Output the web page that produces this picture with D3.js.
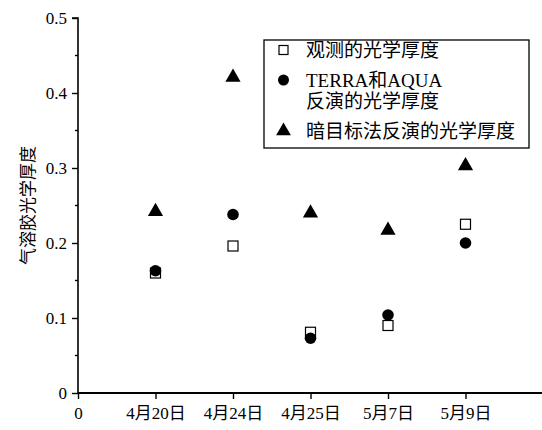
<!DOCTYPE html>
<html><head><meta charset="utf-8">
<script src="https://cdn.jsdelivr.net/npm/d3@7"></script>
<style>
body{margin:0;background:#fff;}
text{font-family:"Liberation Serif","Noto Sans CJK SC",serif;fill:#000 !important;}
</style></head>
<body><svg id="c" width="542" height="430"></svg>
<script>
const categories = ["4月20日","4月24日","4月25日","5月7日","5月9日"];
const observed = [0.160, 0.196, 0.081, 0.090, 0.225];
const terraAqua = [0.163, 0.238, 0.073, 0.104, 0.200];
const darkTarget = [0.242, 0.421, 0.240, 0.217, 0.303];
const yTicks = [0, 0.1, 0.2, 0.3, 0.4, 0.5];
const yMinor = [0.05, 0.15, 0.25, 0.35, 0.45];
const legendLabels = [["观测的光学厚度"], ["TERRA和AQUA","反演的光学厚度"], ["暗目标法反演的光学厚度"]];

const svg = d3.select("#c");
const x = d3.scaleLinear().domain([0, 6]).range([78, 543]);
const y = d3.scaleLinear().domain([0, 0.5]).range([393, 18]);

// Y axis
const yAxis = d3.axisLeft(y).tickValues(yTicks).tickSize(6).tickPadding(5)
  .tickFormat(d => d === 0 ? "0" : d3.format(".1f")(d));
const gy = svg.append("g").attr("transform", `translate(${x(0)},0)`).call(yAxis);
gy.select(".domain").attr("stroke-width", 1.6).attr("d", `M-6,${y(0.5)}H0V${y(0)}`);
gy.selectAll(".tick line").attr("stroke-width", 1.4);
gy.selectAll("text").style("font-size", "17px").attr("dy", "0.33em");
gy.selectAll(".minor").data(yMinor).enter().append("line")
  .attr("x1", -3).attr("x2", 0).attr("y1", d => y(d)).attr("y2", d => y(d))
  .attr("stroke", "#000").attr("stroke-width", 1.4);

// X axis
const xAxis = d3.axisBottom(x).tickValues([0,1,2,3,4,5]).tickSize(6).tickPadding(8)
  .tickFormat(d => d === 0 ? "0" : categories[d-1]);
const gx = svg.append("g").attr("transform", `translate(0,${y(0)})`).call(xAxis);
gx.select(".domain").attr("stroke-width", 2.2).attr("d", `M${x(0)},0H542`);
gx.selectAll(".tick line").attr("stroke-width", 1.4);
gx.selectAll("text").style("font-size", "17px");

// Y label
svg.append("text").attr("transform", `translate(34,${(y(0)+y(0.5))/2}) rotate(-90)`)
  .attr("text-anchor", "middle").style("font-size", "17px")
  .text("气溶胶光学厚度");

const idx = d3.range(categories.length);
const plot = svg.append("g");
// Triangles
plot.selectAll(".tri").data(idx).enter().append("path")
  .attr("transform", i => `translate(${x(i+1)},${y(darkTarget[i])})`)
  .attr("d", d3.symbol(d3.symbolTriangle, 100)).attr("fill", "#000");
// Squares
plot.selectAll(".sq").data(idx).enter().append("rect")
  .attr("x", i => x(i+1) - 5).attr("y", i => y(observed[i]) - 5)
  .attr("width", 10).attr("height", 10).attr("fill", "#fff").attr("stroke", "#000").attr("stroke-width", 1.2);
// Circles
plot.selectAll(".ci").data(idx).enter().append("circle")
  .attr("cx", i => x(i+1)).attr("cy", i => y(terraAqua[i])).attr("r", 5.8).attr("fill", "#000");

// Legend
const lg = svg.append("g");
lg.append("rect").attr("x", 264).attr("y", 40).attr("width", 265).attr("height", 108)
  .attr("fill", "#fff").attr("stroke", "#000").attr("stroke-width", 1.3);
const rows = [50, 80, 131];
lg.append("rect").attr("x", 279).attr("y", rows[0]-4.5).attr("width", 9).attr("height", 9)
  .attr("fill", "#fff").attr("stroke", "#000").attr("stroke-width", 1.2);
lg.append("circle").attr("cx", 283.5).attr("cy", rows[1]).attr("r", 5.5).attr("fill", "#000");
lg.append("path").attr("transform", `translate(283.5,${rows[2]})`).attr("d", d3.symbol(d3.symbolTriangle, 95)).attr("fill", "#000");
legendLabels.forEach((lines, k) => {
  lines.forEach((t, j) => {
    lg.append("text").attr("x", 306).attr("y", rows[k] + j*21).attr("dy", "0.36em")
      .style("font-size", "19px").text(t);
  });
});
</script></body></html>
